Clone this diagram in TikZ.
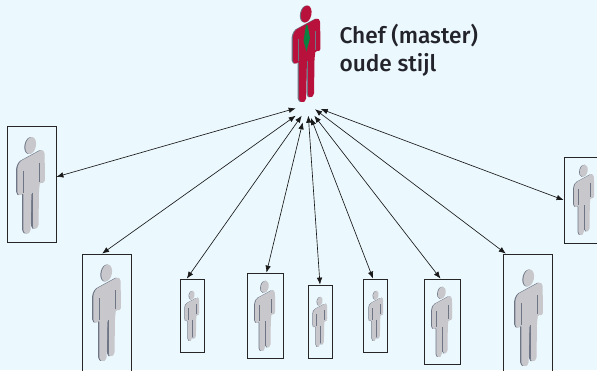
\documentclass[tikz,border=0pt]{standalone}
\usepackage{fontspec}
\setmainfont{Fira Sans Medium}
\usepackage{xcolor}
\usepackage{tikz}
\usetikzlibrary{arrows.meta, positioning}
\definecolor{achtergrond}{HTML}{EBF8FD}
\definecolor{romp}{HTML}{C8C8CC}
\definecolor{zijkant}{HTML}{6E7686}
\definecolor{chefrood}{HTML}{B8123C}
\definecolor{das}{HTML}{0C8040}
\definecolor{tekst}{HTML}{23232B}
\tikzset{
  pics/persoon/.style={
    code={
      % zijkant, iets naar links
      \fill[zijkant] (-1.3,-40) ellipse [x radius=5.2,y radius=8.6,rotate=-12];
      \fill[zijkant,rounded corners=1.6pt,xshift=-1.2pt] (11,-36) -- (13.6,-33.5) -- (14,-3.5) -- (11.5,-2.5) -- (9,-3.5)
        -- (8,5) -- (7.5,41) -- (4,44) -- (1.4,42) -- (1,7) -- (.4,7) -- (-.4,46) -- (-4,49) -- (-7.7,46) -- (-7.7,7)
        -- (-10.5,10.5) -- (-13.7,8) -- (-13.7,-18) -- (-11,-24) -- cycle;
      % voorkant
      \fill[#1] (-.3,-40) ellipse [x radius=5.2,y radius=8.6,rotate=-12];
      \fill[#1,rounded corners=1.6pt] (11,-36) -- (13.6,-33.5) -- (14,-3.5) -- (11.5,-2.5) -- (9,-3.5)
        -- (8,5) -- (7.5,41) -- (4,44) -- (1.4,42) -- (1,7) -- (.4,7) -- (-.4,46) -- (-4,49) -- (-7.7,46) -- (-7.7,7)
        -- (-10.5,10.5) -- (-13.7,8) -- (-13.7,-18) -- (-11,-24) -- cycle;
      % spleten
      \draw[zijkant,line width=.8pt] (-7.7,-15) -- (-7.7,7);
      \draw[zijkant,line width=.8pt] (8.5,-23) -- (8.5,-4);
      \draw[zijkant,line width=.8pt] (.9,7) -- (.9,41);
    }
  },
  persoonbox/.style={draw=black!85,line width=.8pt,inner sep=0pt},
  pijl/.style={{Latex[length=7pt,width=5.5pt]}-{Latex[length=7pt,width=5.5pt]},line width=.65pt,black!90}
}

\begin{document}
\begin{tikzpicture}[x=1pt,y=-1pt]
  \useasboundingbox[fill=achtergrond] (0,0) rectangle (597,370);

  % Chef
  \pic at (306.5,54) {persoon=chefrood};
  \fill[das] (306,25) -- (303.5,41) -- (306.5,51.5) -- (310,38) -- (307.5,25) -- cycle;
  \node[anchor=west,align=left,font=\fontsize{22.7}{28}\selectfont,text=tekst] (chef) at (336,50.5) {Chef (master)\\oude stijl};

  % Personen
  \node[persoonbox,minimum width=49pt,minimum height=116pt] (boxa) at (31.5,184) {};
  \node[persoonbox,minimum width=49pt,minimum height=125pt] (boxb) at (106.5,316.5) {};
  \node[persoonbox,minimum width=24pt,minimum height=73pt] (boxc) at (192,315.5) {};
  \node[persoonbox,minimum width=36pt,minimum height=85pt] (boxd) at (265,315.5) {};
  \node[persoonbox,minimum width=24pt,minimum height=73pt] (boxe) at (320,321.5) {};
  \node[persoonbox,minimum width=24pt,minimum height=73pt] (boxf) at (375,315.5) {};
  \node[persoonbox,minimum width=36pt,minimum height=85pt] (boxg) at (442,321.5) {};
  \node[persoonbox,minimum width=49pt,minimum height=125pt] (boxh) at (527.5,316.5) {};
  \node[persoonbox,minimum width=49pt,minimum height=86pt] (boxi) at (588.5,200) {};
  \pic at (31,185.5) {persoon=romp};
  \pic at (107,313) {persoon=romp};
  \pic[scale=.52] at (192,316) {persoon=romp};
  \pic[scale=.73] at (265,316) {persoon=romp};
  \pic[scale=.52] at (320,322) {persoon=romp};
  \pic[scale=.52] at (376,316) {persoon=romp};
  \pic[scale=.73] at (442,322) {persoon=romp};
  \pic at (529,318) {persoon=romp};
  \pic[scale=.73] at (584,200) {persoon=romp};

  % Vrije uiteinden bij de chef
  \coordinate (vrija) at (295.7,108.3);
  \coordinate (vrijb) at (295.7,115.7);
  \coordinate (vrijc) at (301.7,115.7);
  \coordinate (vrijd) at (302.7,122.3);
  \coordinate (vrije) at (308.3,115.7);
  \coordinate (vrijf) at (311,118);
  \coordinate (vrijg) at (314.3,115.7);
  \coordinate (vrijh) at (315,109.3);
  \coordinate (vrijI) at (320.7,109);

  % Pijlen
  \draw[pijl] (vrija) -- (boxa);
  \draw[pijl] (vrijb) -- (boxb.94);
  \draw[pijl] (vrijc) -- (boxc.98);
  \draw[pijl] (vrijd) -- (boxd.88);
  \draw[pijl] (vrije) -- (boxe.north);
  \draw[pijl] (vrijf) -- (boxf.93);
  \draw[pijl] (vrijg) -- (boxg.92);
  \draw[pijl] (vrijh) -- (boxh.109);
  \draw[pijl] (vrijI) -- (boxi.west);
\end{tikzpicture}
\end{document}
